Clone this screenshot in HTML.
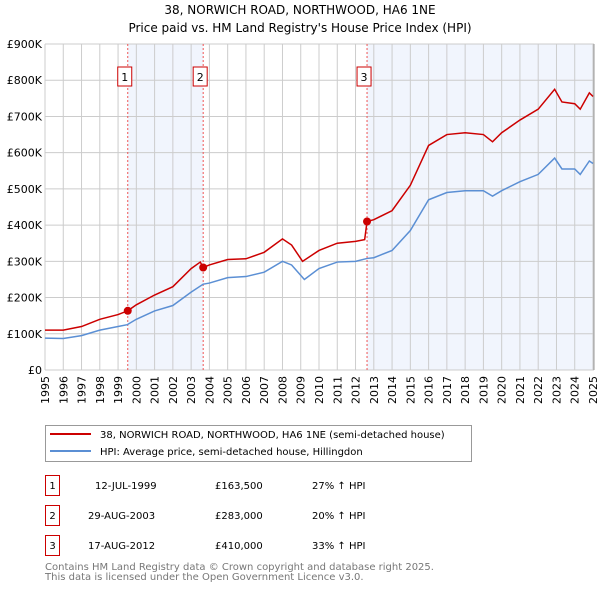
<!DOCTYPE html>
<html><head><meta charset="utf-8"><style>
body{margin:0;background:#fff;font-family:"DejaVu Sans","Liberation Sans",sans-serif;}
svg{display:block}
</style></head><body>
<svg id="chart" width="600" height="590" viewBox="0 0 600 590" xmlns="http://www.w3.org/2000/svg" font-family="DejaVu Sans, Liberation Sans, sans-serif">
<text x="300" y="14" text-anchor="middle" font-size="12">38, NORWICH ROAD, NORTHWOOD, HA6 1NE</text>
<text x="300" y="32" text-anchor="middle" font-size="12">Price paid vs. HM Land Registry's House Price Index (HPI)</text>
<g id="plot"></g>
<g>
<rect x="45.5" y="425.5" width="426" height="36" fill="#fff" stroke="#999"/>
<line x1="50" y1="434" x2="91" y2="434" stroke="#cc0000" stroke-width="2"/>
<text x="100" y="438" font-size="10">38, NORWICH ROAD, NORTHWOOD, HA6 1NE (semi-detached house)</text>
<line x1="50" y1="451" x2="91" y2="451" stroke="#5b8fd4" stroke-width="2"/>
<text x="100" y="455" font-size="10">HPI: Average price, semi-detached house, Hillingdon</text>
</g>
<g font-size="10">
<rect x="45.5" y="475.5" width="14" height="20" fill="#fff" stroke="#cc0000"/><text x="52.5" y="489" text-anchor="middle">1</text>
<text x="95" y="489">12-JUL-1999</text><text x="215" y="489">£163,500</text><text x="312" y="489">27% ↑ HPI</text>
<rect x="45.5" y="505.5" width="14" height="20" fill="#fff" stroke="#cc0000"/><text x="52.5" y="519" text-anchor="middle">2</text>
<text x="88" y="519">29-AUG-2003</text><text x="215" y="519">£283,000</text><text x="312" y="519">20% ↑ HPI</text>
<rect x="45.5" y="535.5" width="14" height="20" fill="#fff" stroke="#cc0000"/><text x="52.5" y="549" text-anchor="middle">3</text>
<text x="88" y="549">17-AUG-2012</text><text x="215" y="549">£410,000</text><text x="312" y="549">33% ↑ HPI</text>
</g>
<text x="45" y="570" font-size="10" fill="#777">Contains HM Land Registry data © Crown copyright and database right 2025.</text>
<text x="45" y="580" font-size="10" fill="#777">This data is licensed under the Open Government Licence v3.0.</text>
</svg>
<script>
const hpiYears=[1995,1996,1997,1998,1999,1999.5,2000,2001,2002,2003,2003.66,2004,2005,2006,2007,2008,2008.5,2009.2,2010,2011,2012,2012.63,2013,2014,2015,2016,2017,2018,2019,2019.5,2020,2021,2022,2022.9,2023.3,2024,2024.3,2024.8,2025];
const hpiValues=[88,87,95,110,120,125,140,163,178,215,237,240,255,258,270,300,290,250,280,298,300,308,310,330,385,470,490,495,495,480,495,520,540,585,555,555,540,577,570];
const propYears=[1995,1996,1997,1998,1999,1999.53,2000,2001,2002,2003,2003.5,2003.66,2004,2005,2006,2007,2008,2008.5,2009.1,2010,2011,2012,2012.5,2012.63,2013,2014,2015,2016,2017,2018,2019,2019.5,2020,2021,2022,2022.9,2023.3,2024,2024.3,2024.8,2025];
const propValues=[110,110,120,140,153,163.5,180,207,230,280,298,283,290,305,307,325,362,345,300,330,350,355,360,410,415,440,510,620,650,655,650,630,655,690,720,775,740,735,720,765,755];
const saleYears=[1999.53,2003.66,2012.63];
const saleValues=[163.5,283,410];
const saleLabels=["1","2","3"];
const yTicks=[0,100,200,300,400,500,600,700,800,900];
const yTickLabels=["£0","£100K","£200K","£300K","£400K","£500K","£600K","£700K","£800K","£900K"];
const xTicks=[];for(let y=1995;y<=2025;y++)xTicks.push(y);

const X0=45,X1=593,Y0=370,Y1=44;
const xs=t=>X0+(t-1995)/30*(X1-X0);
const ys=v=>Y0-v/900*(Y0-Y1);
const NS="http://www.w3.org/2000/svg";
const g=document.getElementById('plot');
function mk(tag,attrs,parent){const e=document.createElementNS(NS,tag);for(const k in attrs)e.setAttribute(k,attrs[k]);(parent||g).appendChild(e);return e;}

const bg=mk('rect',{x:X0,y:Y1,width:X1-X0+1,height:Y0-Y1,fill:'#fff'});


const s1=mk('rect',{x:xs(saleYears[0]),y:Y1,width:xs(saleYears[1])-xs(saleYears[0]),height:Y0-Y1,fill:'#eef3fc',opacity:0.8});


const s2=mk('rect',{x:xs(saleYears[2]),y:Y1,width:X1+1-xs(saleYears[2]),height:Y0-Y1,fill:'#eef3fc',opacity:0.8});



yTicks.forEach((v,i)=>{
  const l=mk('line',{x1:X0,x2:X1+1,y1:ys(v),y2:ys(v),stroke:'#ccc','stroke-width':1});
  
  
  const t=mk('text',{x:X0-3,y:ys(v)+4,'text-anchor':'end','font-size':11});
  
  
  t.textContent=yTickLabels[i];
});
xTicks.forEach(yr=>{
  const l=mk('line',{x1:xs(yr),x2:xs(yr),y1:Y1,y2:Y0,stroke:'#ccc','stroke-width':1});
  
  
  const t=mk('text',{transform:`translate(${xs(yr)+4},${Y0+34}) rotate(-90)`,'font-size':11});
  
  
  t.textContent=yr;
});
saleYears.forEach((yr,i)=>{
  const l=mk('line',{x1:xs(yr),x2:xs(yr),y1:Y1,y2:Y0,stroke:'#e55','stroke-width':1,'stroke-dasharray':'2,2'});
  
  
  const bx=xs(yr)-10;
  const r=mk('rect',{x:bx,y:67,width:14,height:19,fill:'#fff',stroke:'#cc0000'});
  
  
  const t=mk('text',{x:bx+7,y:81,'text-anchor':'middle','font-size':11});
  
  
  t.textContent=saleLabels[i];
});
const hp=mk('polyline',{points:hpiYears.map((t,i)=>xs(t)+','+ys(hpiValues[i])).join(' '),fill:'none',stroke:'#5b8fd4','stroke-width':1.5});


const pp=mk('polyline',{points:propYears.map((t,i)=>xs(t)+','+ys(propValues[i])).join(' '),fill:'none',stroke:'#cc0000','stroke-width':1.5});


saleYears.forEach((t,i)=>{
  const c=mk('circle',{cx:xs(t),cy:ys(saleValues[i]),r:4,fill:'#cc0000'});
  
  
});
const ax=mk('line',{x1:X1+1,x2:X1+1,y1:Y1,y2:Y0,stroke:'#999','stroke-width':1});


</script>
</body></html>
